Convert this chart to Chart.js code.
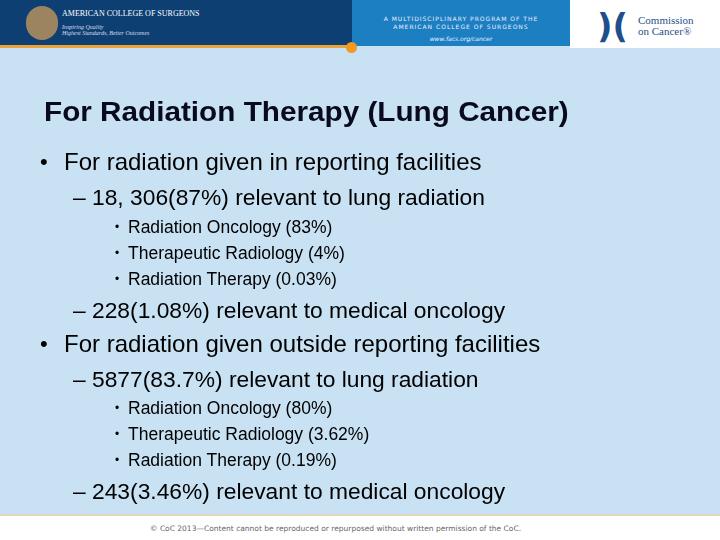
<!DOCTYPE html>
<html><head><meta charset="utf-8">
<script src="https://cdn.jsdelivr.net/npm/chart.js@4"></script>
<style>
body{margin:0;width:720px;height:540px;position:relative;overflow:hidden;background:#c8e1f3;font-family:"Liberation Sans",Arial,sans-serif;}
.a{position:absolute;white-space:nowrap;}
#c{position:absolute;left:0;top:0;}
</style></head><body>
<canvas id="c" width="720" height="540"></canvas>
<div class="a" style="left:0;top:0;width:352px;height:46px;background:#0d3f73"></div>
<div class="a" style="left:352px;top:0;width:218px;height:46px;background:#1c7fc2"></div>
<div class="a" style="left:570px;top:0;width:150px;height:48px;background:#fff"></div>
<div class="a" style="left:0;top:45px;width:352px;height:3px;background:#e9a53a"></div>
<div class="a" style="left:346px;top:42px;width:11px;height:11px;border-radius:6px;background:#f39a1f"></div>
<div class="a" style="left:26px;top:6px;width:32px;height:34px;border-radius:17px;background:#9c8460"></div>
<div class="a" style="left:62px;top:9px;font:8px 'Liberation Serif';color:#fff">AMERICAN COLLEGE OF SURGEONS</div>
<div class="a" style="left:62px;top:24px;font:italic 6px 'Liberation Serif';color:#dde">Inspiring Quality<br>Highest Standards, Better Outcomes</div>
<div class="a" style="left:352px;top:15px;width:218px;text-align:center;font:6px 'DejaVu Sans';letter-spacing:1px;color:#eef;line-height:8px">A MULTIDISCIPLINARY PROGRAM OF THE<br>AMERICAN COLLEGE OF SURGEONS</div>
<div class="a" style="left:352px;top:35px;width:218px;text-align:center;font:italic 6px 'DejaVu Sans';color:#eef">www.facs.org/cancer</div>
<div class="a" style="left:597px;top:7px;width:40px;height:38px;font:bold 34px 'DejaVu Sans';color:#1f4f8a;line-height:38px">)(</div>
<div class="a" style="left:638px;top:15px;font:11px 'Liberation Serif';color:#1f4f8a;line-height:11px">Commission<br>on Cancer®</div>
<div class="a" style="left:0;top:514px;width:720px;height:26px;background:#fff;border-top:2px solid #e3d6bf"></div>
<div class="a" style="left:150px;top:524px;font:7.5px 'DejaVu Sans';color:#666">© CoC 2013—Content cannot be reproduced or repurposed without written permission of the CoC.</div>
<div class="a" style="left:44px;top:97px;font:bold 27px 'Liberation Sans';color:#0a0a1e;transform-origin:0 0;transform:scaleX(1.1)">For Radiation Therapy (Lung Cancer)</div>
<div id="t"></div>
<script>
const lines=[
 [1,162,"For radiation given in reporting facilities"],
 [2,197,"18, 306(87%) relevant to lung radiation"],
 [3,227,"Radiation Oncology (83%)"],
 [3,253,"Therapeutic Radiology (4%)"],
 [3,279,"Radiation Therapy (0.03%)"],
 [2,310,"228(1.08%) relevant to medical oncology"],
 [1,344,"For radiation given outside reporting facilities"],
 [2,379,"5877(83.7%) relevant to lung radiation"],
 [3,408,"Radiation Oncology (80%)"],
 [3,434,"Therapeutic Radiology (3.62%)"],
 [3,460,"Radiation Therapy (0.19%)"],
 [2,491,"243(3.46%) relevant to medical oncology"]
];
let h="";
for(const [lv,y,s] of lines){
 if(lv===1)h+=`<div class="a" style="left:40px;top:${y-13}px;font:22px 'Liberation Sans'">•</div><div class="a" style="left:64px;top:${y-14}px;font:24px 'Liberation Sans'">${s}</div>`;
 else if(lv===2)h+=`<div class="a" style="left:73px;top:${y-13}px;font:22.8px 'Liberation Sans'">–&nbsp;${s}</div>`;
 else h+=`<div class="a" style="left:115px;top:${y-7}px;font:12px 'Liberation Sans'">•</div><div class="a" style="left:128px;top:${y-10}px;font:17.5px 'Liberation Sans'">${s}</div>`;
}
document.getElementById('t').innerHTML=h;
new Chart(document.getElementById('c'),{type:'bar',data:{labels:[],datasets:[]},options:{responsive:false,animation:false,plugins:{legend:{display:false}},scales:{x:{display:false},y:{display:false}}}});
</script>
</body></html>
